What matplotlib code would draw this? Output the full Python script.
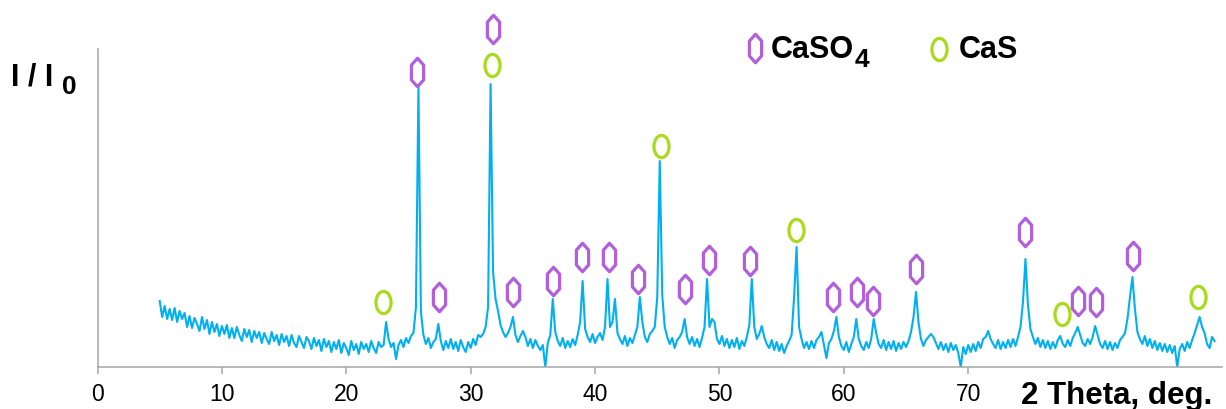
import matplotlib.pyplot as plt
import numpy as np
from matplotlib.path import Path

plt.rcParams["font.family"] = ["Liberation Sans", "DejaVu Sans"]

# XRD scan, 2-theta grid start/step (deg) and intensity
scan_start = 5.0
scan_step = 0.2
intensity = [
    66, 50, 61, 48, 58, 47, 59, 45, 56, 48,  # 5.0
    54, 40, 51, 39, 49, 43, 36, 50, 38, 47,  # 7.0
    33, 45, 35, 43, 31, 41, 33, 42, 29, 39,  # 9.0
    29, 40, 32, 26, 38, 30, 37, 25, 36, 29,  # 11.0
    35, 24, 34, 28, 23, 35, 26, 32, 22, 33,  # 13.0
    25, 31, 21, 32, 24, 20, 31, 25, 19, 30,  # 15.0
    26, 18, 29, 21, 27, 16, 28, 20, 26, 15,  # 17.0
    25, 18, 27, 14, 24, 19, 12, 26, 17, 23,  # 19.0
    13, 25, 18, 23, 15, 26, 19, 14, 25, 20,  # 21.0
    22, 45, 28, 20, 24, 8, 22, 27, 20, 29,  # 23.0
    24, 31, 34, 60, 280, 55, 32, 23, 29, 19,  # 25.0
    25, 28, 43, 26, 17, 26, 19, 28, 18, 25,  # 27.0
    16, 27, 20, 15, 25, 19, 28, 22, 32, 30,  # 29.0
    33, 40, 60, 283, 95, 68, 56, 42, 35, 30,  # 31.0
    34, 40, 50, 32, 25, 31, 36, 30, 21, 28,  # 33.0
    19, 27, 21, 17, 22, 0, 24, 32, 68, 35,  # 35.0
    26, 21, 29, 19, 26, 20, 28, 22, 32, 45,  # 37.0
    86, 38, 30, 25, 33, 24, 30, 34, 27, 40,  # 39.0
    88, 40, 45, 68, 34, 28, 23, 31, 21, 29,  # 41.0
    24, 32, 40, 70, 45, 30, 25, 33, 36, 40,  # 43.0
    70, 206, 72, 40, 30, 23, 29, 19, 27, 30,  # 45.0
    35, 48, 30, 23, 30, 21, 28, 20, 29, 40,  # 47.0
    88, 40, 48, 45, 28, 23, 31, 21, 28, 19,  # 49.0
    27, 20, 29, 18, 26, 21, 30, 42, 88, 40,  # 51.0
    28, 33, 41, 30, 23, 19, 27, 17, 25, 16,  # 53.0
    23, 14, 21, 26, 32, 70, 120, 40, 28, 19,  # 55.0
    25, 18, 26, 19, 27, 30, 35, 22, 9, 24,  # 57.0
    28, 36, 50, 30, 21, 17, 25, 15, 23, 30,  # 59.0
    48, 28, 21, 17, 25, 19, 28, 48, 34, 23,  # 61.0
    19, 27, 17, 25, 18, 26, 16, 24, 18, 25,  # 63.0
    20, 26, 35, 50, 75, 45, 28, 21, 27, 30,  # 65.0
    33, 30, 24, 18, 25, 17, 23, 15, 24, 17,  # 67.0
    22, 14, 0, 20, 13, 22, 15, 23, 16, 25,  # 69.0
    19, 28, 30, 36, 28, 23, 19, 27, 18, 25,  # 71.0
    19, 27, 20, 28, 21, 30, 40, 65, 108, 62,  # 73.0
    38, 30, 23, 29, 20, 27, 19, 26, 18, 25,  # 75.0
    19, 27, 31, 23, 20, 27, 21, 29, 34, 40,  # 77.0
    32, 24, 21, 28, 23, 30, 41, 32, 23, 19,  # 79.0
    26, 18, 25, 17, 24, 19, 27, 30, 34, 48,  # 81.0
    70, 90, 58, 35, 28, 23, 31, 21, 28, 19,  # 83.0
    26, 17, 24, 16, 23, 15, 22, 14, 21, 0,  # 85.0
    18, 23, 16, 25, 19, 27, 34, 42, 50, 40,  # 87.0
    34, 23, 19, 30, 26,  # 89.0
]
two_theta = scan_start + scan_step * np.arange(len(intensity))

# phase markers (position, height of the marker)
caso4_x = [25.66, 27.45, 31.77, 33.40, 36.64, 38.95, 41.14, 43.42, 47.23, 49.12,
           52.45, 59.15, 61.08, 62.36, 65.80, 74.56, 78.84, 80.27, 83.24]
caso4_y = [295.5, 70, 338, 75, 86.5, 110, 110, 88, 78, 107.5,
           106, 70, 75, 66, 98, 135, 66, 65, 111]
cas_x = [22.95, 31.75, 45.27, 56.12, 77.50, 88.46]
cas_y = [65, 302.5, 221, 137, 53, 70]

x_ticks = [0, 10, 20, 30, 40, 50, 60, 70]

W, H = 1226, 410
line_col = "#00B0F0"
purple = "#B35EDC"
green = "#A9DA1C"
axis_col = "#A6A6A6"

hexagon = Path([(0, 1), (0.43, 0.52), (0.43, -0.52), (0, -1),
                (-0.43, -0.52), (-0.43, 0.52), (0, 1)], closed=True)
circ = Path.unit_circle()
oval = Path(circ.vertices * np.array([0.68, 1.0]), circ.codes)

fig = plt.figure(figsize=(W / 100, H / 100), dpi=100)
ax = fig.add_axes([97.5 / W, 42 / H, 1124.5 / W, 318 / H])

ax.plot(two_theta, intensity, color=line_col, linewidth=1.5)

ax.plot(caso4_x, caso4_y, linestyle="none", marker=hexagon, markersize=20.5,
        markerfacecolor="none", markeredgecolor=purple, markeredgewidth=2.3,
        clip_on=False)
ax.plot(cas_x, cas_y, linestyle="none", marker=oval, markersize=16,
        markerfacecolor="none", markeredgecolor=green, markeredgewidth=2.3,
        clip_on=False)

ax.set_xlim(0, 90.4)
ax.set_ylim(0, 318)
ax.set_xticks(x_ticks)
ax.set_yticks([])
ax.tick_params(axis="x", direction="out", length=5, width=1.1, color=axis_col,
               labelsize=16.5, pad=6)
for side in ["top", "right"]:
    ax.spines[side].set_visible(False)
for side in ["left", "bottom"]:
    ax.spines[side].set_color(axis_col)
    ax.spines[side].set_linewidth(1.1)


def fxy(px, py):
    return px / W, 1 - py / H


# legend drawn by hand
ax.plot(*fxy(755, 49), transform=fig.transFigure, marker=hexagon, markersize=20.5,
        markerfacecolor="none", markeredgecolor=purple, markeredgewidth=2.3,
        clip_on=False)
ax.plot(*fxy(939, 50), transform=fig.transFigure, marker=oval, markersize=16,
        markerfacecolor="none", markeredgecolor=green, markeredgewidth=2.3,
        clip_on=False)
bold = dict(fontweight="bold", va="baseline", ha="left")
fig.text(*fxy(771, 58), "CaSO", fontsize=22, **bold)
fig.text(*fxy(855, 67), "4", fontsize=19, **bold)
fig.text(*fxy(959, 58), "CaS", fontsize=22, **bold)

# axis labels
fig.text(*fxy(11, 86), "I / I", fontsize=22, **bold)
fig.text(*fxy(62, 94), "0", fontsize=19, **bold)
fig.text(*fxy(1021, 404), "2 Theta, deg.", fontsize=22.5, **bold)

fig.savefig("out.png", dpi=100)
